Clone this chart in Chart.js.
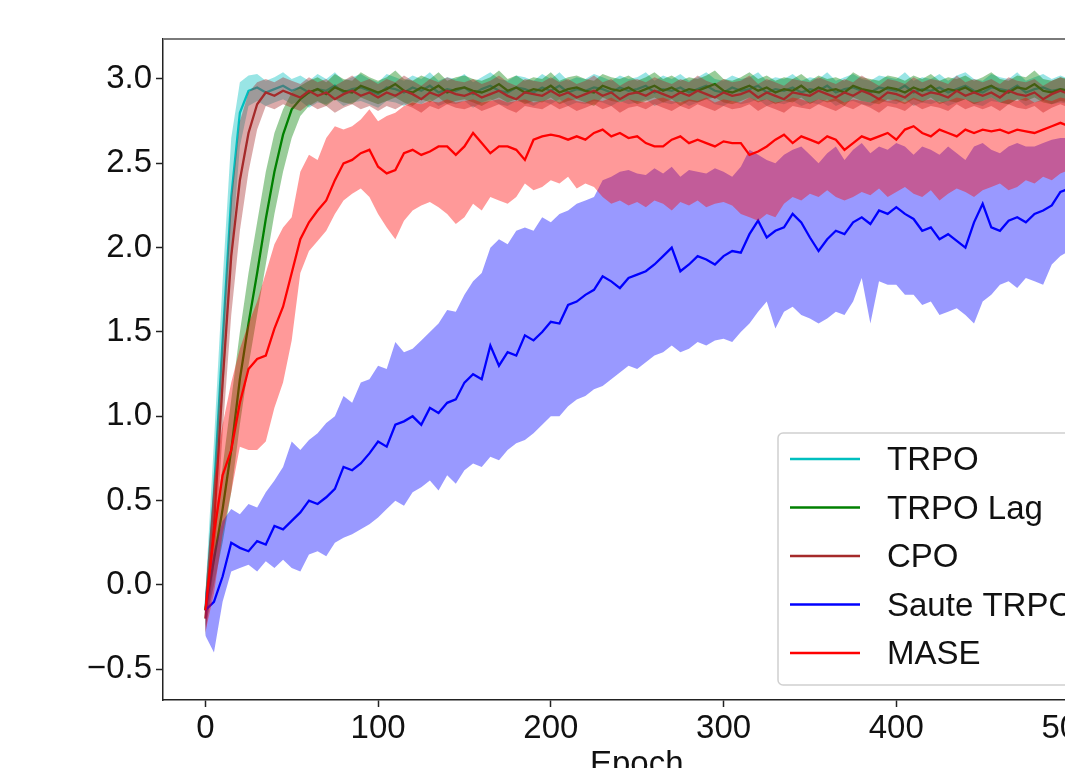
<!DOCTYPE html>
<html><head><meta charset="utf-8">
<script src="https://cdn.jsdelivr.net/npm/chart.js@4.4.0/dist/chart.umd.min.js"></script>
<style>
html,body{margin:0;padding:0;overflow:hidden;background:#fff;width:1065px;height:768px}
#wrap{position:absolute;left:0;top:0;width:1130px;height:800px}
</style>
</head><body><div id="wrap"><canvas id="c" width="1130" height="800"></canvas></div>
<script>
const epochs = [
0,5,10,15,20,25,30,35,40,45,
50,55,60,65,70,75,80,85,90,95,
100,105,110,115,120,125,130,135,140,145,
150,155,160,165,170,175,180,185,190,195,
200,205,210,215,220,225,230,235,240,245,
250,255,260,265,270,275,280,285,290,295,
300,305,310,315,320,325,330,335,340,345,
350,355,360,365,370,375,380,385,390,395,
400,405,410,415,420,425,430,435,440,445,
450,455,460,465,470,475,480,485,490,495,
500];

const trpoMean = [
-0.15,0.55,1.45,2.30,2.80,2.93,2.95,2.92,2.94,2.96,
2.93,2.95,2.92,2.94,2.93,2.96,2.92,2.94,2.95,2.93,
2.91,2.95,2.94,2.92,2.95,2.93,2.96,2.92,2.94,2.93,
2.95,2.91,2.94,2.96,2.93,2.92,2.95,2.94,2.92,2.95,
2.93,2.96,2.92,2.94,2.93,2.95,2.94,2.92,2.95,2.93,
2.94,2.96,2.92,2.94,2.93,2.95,2.92,2.94,2.96,2.93,
2.92,2.95,2.93,2.94,2.96,2.92,2.94,2.93,2.95,2.92,
2.94,2.93,2.96,2.92,2.94,2.95,2.93,2.92,2.95,2.94,
2.93,2.96,2.92,2.94,2.93,2.95,2.92,2.94,2.96,2.93,
2.92,2.95,2.94,2.93,2.96,2.92,2.94,2.95,2.93,2.94,
2.93];
const trpoHi = [
-0.05,0.85,1.80,2.65,2.98,3.02,3.03,2.99,3.01,3.04,
3.00,3.02,2.99,3.03,3.00,3.04,2.99,3.01,3.03,3.00,
2.98,3.03,3.01,2.99,3.02,3.00,3.04,2.99,3.01,3.00,
3.03,2.98,3.01,3.04,3.00,2.99,3.02,3.01,2.99,3.03,
3.00,3.04,2.99,3.01,3.00,3.03,3.01,2.99,3.02,3.00,
3.01,3.04,2.99,3.02,3.00,3.03,2.99,3.01,3.04,3.00,
2.99,3.02,3.00,3.01,3.04,2.99,3.01,3.00,3.03,2.99,
3.01,3.00,3.04,2.99,3.01,3.03,3.00,2.99,3.02,3.01,
3.00,3.04,2.99,3.01,3.00,3.03,2.99,3.02,3.04,3.00,
2.99,3.03,3.01,3.00,3.04,2.99,3.01,3.03,3.00,3.02,
3.00];
const trpoLo = [
-0.30,0.30,1.10,1.95,2.60,2.84,2.87,2.84,2.86,2.88,
2.85,2.87,2.83,2.86,2.85,2.88,2.84,2.86,2.87,2.85,
2.83,2.87,2.86,2.84,2.87,2.85,2.88,2.84,2.86,2.85,
2.87,2.83,2.86,2.88,2.85,2.84,2.87,2.86,2.84,2.87,
2.85,2.88,2.84,2.86,2.85,2.87,2.86,2.84,2.87,2.85,
2.86,2.88,2.84,2.86,2.85,2.87,2.84,2.86,2.88,2.85,
2.84,2.87,2.85,2.86,2.88,2.84,2.86,2.85,2.87,2.84,
2.86,2.85,2.88,2.84,2.86,2.87,2.85,2.84,2.87,2.86,
2.85,2.88,2.84,2.86,2.85,2.87,2.84,2.86,2.88,2.85,
2.84,2.87,2.86,2.85,2.88,2.84,2.86,2.87,2.85,2.86,
2.85];

const lagMean = [
-0.15,0.15,0.45,0.80,1.22,1.55,1.85,2.17,2.45,2.67,
2.82,2.88,2.92,2.94,2.91,2.95,2.93,2.92,2.96,2.94,
2.92,2.94,2.97,2.93,2.92,2.95,2.93,2.96,2.92,2.94,
2.95,2.93,2.92,2.94,2.97,2.93,2.95,2.92,2.94,2.93,
2.96,2.92,2.94,2.95,2.93,2.92,2.96,2.94,2.93,2.95,
2.92,2.94,2.96,2.93,2.95,2.92,2.94,2.93,2.95,2.97,
2.93,2.92,2.94,2.96,2.93,2.95,2.92,2.94,2.93,2.96,
2.92,2.95,2.93,2.94,2.92,2.96,2.94,2.93,2.92,2.95,
2.94,2.92,2.95,2.93,2.96,2.92,2.94,2.93,2.95,2.92,
2.94,2.96,2.93,2.92,2.95,2.94,2.97,2.93,2.92,2.94,
2.93];
const lagHi = [
-0.05,0.35,0.70,1.10,1.50,1.85,2.15,2.45,2.68,2.82,
2.92,2.96,2.99,3.01,2.98,3.03,3.00,2.99,3.04,3.01,
2.99,3.01,3.05,3.00,2.99,3.02,3.00,3.04,2.99,3.01,
3.02,3.00,2.99,3.01,3.05,3.00,3.02,2.99,3.01,3.00,
3.04,2.99,3.01,3.02,3.00,2.99,3.03,3.01,3.00,3.02,
2.99,3.01,3.04,3.00,3.02,2.99,3.01,3.00,3.02,3.05,
3.00,2.99,3.01,3.04,3.00,3.02,2.99,3.01,3.00,3.03,
2.99,3.02,3.00,3.01,2.99,3.04,3.01,3.00,2.99,3.02,
3.01,2.99,3.02,3.00,3.03,2.99,3.01,3.00,3.02,2.99,
3.01,3.04,3.00,2.99,3.02,3.01,3.05,3.00,2.99,3.01,
3.00];
const lagLo = [
-0.25,0.00,0.25,0.55,0.95,1.30,1.60,1.90,2.20,2.45,
2.65,2.78,2.84,2.87,2.84,2.88,2.86,2.85,2.89,2.87,
2.85,2.87,2.89,2.86,2.84,2.88,2.86,2.89,2.85,2.87,
2.88,2.86,2.84,2.87,2.89,2.86,2.88,2.85,2.87,2.86,
2.89,2.85,2.87,2.88,2.86,2.84,2.89,2.87,2.86,2.88,
2.85,2.87,2.89,2.86,2.88,2.84,2.87,2.86,2.88,2.89,
2.86,2.85,2.87,2.89,2.86,2.88,2.85,2.87,2.86,2.89,
2.85,2.88,2.86,2.87,2.84,2.89,2.87,2.86,2.85,2.88,
2.87,2.85,2.88,2.86,2.89,2.85,2.87,2.86,2.88,2.85,
2.87,2.89,2.86,2.85,2.88,2.87,2.89,2.86,2.85,2.87,
2.86];

const cpoMean = [
-0.20,0.35,1.20,1.95,2.40,2.68,2.85,2.92,2.90,2.93,
2.91,2.89,2.93,2.90,2.92,2.88,2.91,2.93,2.90,2.92,
2.89,2.92,2.90,2.93,2.91,2.88,2.92,2.90,2.93,2.91,
2.90,2.92,2.89,2.91,2.93,2.90,2.88,2.92,2.91,2.90,
2.93,2.90,2.92,2.89,2.91,2.93,2.90,2.92,2.88,2.91,
2.92,2.90,2.93,2.91,2.89,2.92,2.90,2.93,2.91,2.89,
2.92,2.90,2.91,2.93,2.89,2.92,2.90,2.88,2.92,2.91,
2.90,2.93,2.91,2.89,2.92,2.90,2.93,2.91,2.88,2.92,
2.91,2.89,2.93,2.90,2.92,2.91,2.89,2.93,2.90,2.92,
2.90,2.92,2.89,2.93,2.91,2.90,2.92,2.88,2.91,2.93,
2.91];
const cpoHi = [
-0.10,0.60,1.50,2.30,2.75,2.92,2.98,3.00,2.98,3.01,
2.99,2.97,3.01,2.98,3.00,2.96,2.99,3.02,2.98,3.00,
2.97,3.00,2.98,3.02,2.99,2.96,3.00,2.98,3.01,2.99,
2.98,3.00,2.97,2.99,3.02,2.98,2.96,3.00,2.99,2.98,
3.01,2.98,3.00,2.97,2.99,3.02,2.98,3.00,2.96,2.99,
3.00,2.98,3.01,2.99,2.97,3.00,2.98,3.02,2.99,2.97,
3.00,2.98,2.99,3.02,2.97,3.00,2.98,2.96,3.00,2.99,
2.98,3.01,2.99,2.97,3.00,2.98,3.02,2.99,2.96,3.00,
2.99,2.97,3.01,2.98,3.00,2.99,2.97,3.02,2.98,3.00,
2.98,3.00,2.97,3.01,2.99,2.98,3.00,2.96,2.99,3.01,
2.99];
const cpoLo = [
-0.30,0.10,0.90,1.60,2.10,2.45,2.70,2.84,2.82,2.85,
2.83,2.81,2.85,2.82,2.84,2.80,2.83,2.85,2.82,2.84,
2.81,2.84,2.82,2.85,2.83,2.80,2.84,2.82,2.85,2.83,
2.82,2.84,2.81,2.83,2.85,2.82,2.80,2.84,2.83,2.82,
2.85,2.82,2.84,2.81,2.83,2.85,2.82,2.84,2.80,2.83,
2.84,2.82,2.85,2.83,2.81,2.84,2.82,2.85,2.83,2.81,
2.84,2.82,2.83,2.85,2.81,2.84,2.82,2.80,2.84,2.83,
2.82,2.85,2.83,2.81,2.84,2.82,2.85,2.83,2.80,2.84,
2.83,2.81,2.85,2.82,2.84,2.83,2.81,2.85,2.82,2.84,
2.82,2.84,2.81,2.85,2.83,2.82,2.84,2.80,2.83,2.85,
2.83];

const sauteMean = [
-0.15,-0.10,0.05,0.25,0.22,0.20,0.26,0.24,0.35,0.33,
0.38,0.43,0.50,0.48,0.52,0.57,0.70,0.68,0.72,0.78,
0.85,0.82,0.95,0.97,1.00,0.95,1.05,1.02,1.08,1.10,
1.20,1.25,1.22,1.42,1.30,1.38,1.36,1.48,1.45,1.50,
1.56,1.55,1.66,1.68,1.72,1.75,1.83,1.80,1.76,1.82,
1.84,1.86,1.90,1.95,2.00,1.86,1.90,1.95,1.93,1.90,
1.95,1.98,1.97,2.08,2.16,2.06,2.10,2.12,2.20,2.15,
2.06,1.98,2.05,2.10,2.08,2.15,2.18,2.14,2.22,2.20,
2.24,2.20,2.17,2.10,2.12,2.05,2.08,2.04,2.00,2.15,
2.26,2.12,2.10,2.16,2.18,2.15,2.20,2.22,2.25,2.33,
2.35];
const sauteHi = [
-0.05,0.20,0.38,0.45,0.42,0.48,0.46,0.55,0.62,0.70,
0.85,0.80,0.86,0.90,0.96,1.00,1.12,1.08,1.20,1.22,
1.30,1.28,1.44,1.38,1.40,1.45,1.50,1.55,1.63,1.62,
1.72,1.80,1.85,2.00,2.05,2.02,2.10,2.12,2.10,2.18,
2.15,2.20,2.22,2.26,2.28,2.30,2.40,2.42,2.45,2.46,
2.44,2.43,2.47,2.44,2.48,2.42,2.46,2.45,2.44,2.47,
2.45,2.42,2.48,2.58,2.55,2.52,2.50,2.55,2.58,2.60,
2.55,2.50,2.56,2.60,2.52,2.58,2.62,2.56,2.60,2.58,
2.62,2.60,2.55,2.60,2.58,2.55,2.60,2.56,2.52,2.60,
2.62,2.58,2.56,2.60,2.62,2.60,2.60,2.62,2.64,2.65,
2.65];
const sauteLo = [
-0.30,-0.40,-0.10,0.08,0.10,0.12,0.08,0.14,0.10,0.15,
0.10,0.08,0.18,0.20,0.17,0.25,0.28,0.30,0.33,0.36,
0.40,0.45,0.50,0.47,0.55,0.58,0.62,0.56,0.65,0.60,
0.68,0.72,0.70,0.76,0.74,0.80,0.84,0.86,0.90,0.95,
1.00,1.00,1.06,1.10,1.12,1.16,1.18,1.22,1.26,1.30,
1.28,1.32,1.36,1.38,1.42,1.38,1.40,1.44,1.42,1.45,
1.46,1.44,1.50,1.55,1.62,1.68,1.52,1.62,1.65,1.60,
1.58,1.55,1.58,1.62,1.60,1.68,1.82,1.55,1.80,1.78,
1.78,1.72,1.72,1.66,1.68,1.60,1.62,1.64,1.60,1.55,
1.68,1.72,1.78,1.80,1.76,1.82,1.80,1.78,1.90,1.95,
1.98];

const maseMean = [
-0.15,0.30,0.65,0.80,1.08,1.28,1.34,1.36,1.52,1.65,
1.85,2.05,2.15,2.22,2.28,2.40,2.50,2.52,2.56,2.58,
2.48,2.44,2.46,2.56,2.58,2.55,2.57,2.60,2.60,2.55,
2.60,2.68,2.62,2.56,2.60,2.60,2.58,2.52,2.64,2.66,
2.67,2.66,2.64,2.66,2.64,2.68,2.70,2.66,2.68,2.65,
2.66,2.62,2.60,2.60,2.64,2.66,2.62,2.64,2.62,2.60,
2.63,2.62,2.62,2.55,2.57,2.60,2.64,2.67,2.62,2.66,
2.64,2.62,2.66,2.64,2.58,2.62,2.66,2.64,2.66,2.68,
2.64,2.70,2.72,2.68,2.66,2.70,2.68,2.66,2.70,2.68,
2.70,2.69,2.70,2.68,2.70,2.69,2.68,2.70,2.72,2.74,
2.72];
const maseHi = [
-0.05,0.62,0.95,1.20,1.40,1.55,1.68,1.85,2.02,2.12,
2.18,2.45,2.55,2.52,2.65,2.72,2.70,2.72,2.76,2.82,
2.75,2.78,2.80,2.84,2.86,2.85,2.87,2.86,2.88,2.86,
2.87,2.88,2.86,2.87,2.88,2.86,2.87,2.88,2.86,2.87,
2.88,2.86,2.89,2.87,2.86,2.88,2.87,2.89,2.86,2.88,
2.87,2.86,2.88,2.89,2.87,2.86,2.88,2.87,2.89,2.86,
2.88,2.87,2.86,2.89,2.87,2.88,2.86,2.87,2.89,2.88,
2.86,2.88,2.87,2.89,2.86,2.88,2.87,2.86,2.89,2.87,
2.88,2.86,2.89,2.87,2.88,2.86,2.87,2.89,2.88,2.86,
2.87,2.89,2.86,2.88,2.87,2.89,2.86,2.88,2.87,2.89,
2.88];
const maseLo = [
-0.28,-0.05,0.30,0.55,0.82,0.80,0.80,0.85,1.05,1.20,
1.45,1.85,1.98,2.04,2.10,2.20,2.28,2.32,2.35,2.30,
2.20,2.12,2.05,2.16,2.22,2.25,2.27,2.24,2.20,2.14,
2.18,2.26,2.22,2.30,2.28,2.26,2.30,2.38,2.34,2.36,
2.40,2.38,2.42,2.35,2.38,2.36,2.30,2.26,2.28,2.25,
2.27,2.24,2.28,2.26,2.22,2.27,2.25,2.28,2.24,2.26,
2.27,2.25,2.20,2.18,2.16,2.20,2.18,2.26,2.30,2.28,
2.32,2.30,2.34,2.30,2.28,2.30,2.33,2.31,2.35,2.30,
2.33,2.36,2.32,2.30,2.34,2.28,2.32,2.35,2.33,2.30,
2.34,2.36,2.38,2.34,2.36,2.40,2.38,2.42,2.40,2.44,
2.46];

const seriesNames = ['TRPO','TRPO Lag','CPO','Saute TRPO','MASE'];
const xTicks = [0,100,200,300,400,500];
const yTicks = [-0.5,0,0.5,1.0,1.5,2.0,2.5,3.0];
const xTitle = 'Epoch';

const seriesData = [
  {mean: trpoMean, hi: trpoHi, lo: trpoLo, line: '#00bfbf', fill: 'rgba(0,191,191,0.4)'},
  {mean: lagMean, hi: lagHi, lo: lagLo, line: '#008000', fill: 'rgba(0,128,0,0.4)'},
  {mean: cpoMean, hi: cpoHi, lo: cpoLo, line: '#a52a2a', fill: 'rgba(165,42,42,0.4)'},
  {mean: sauteMean, hi: sauteHi, lo: sauteLo, line: '#0000ff', fill: 'rgba(0,0,255,0.4)'},
  {mean: maseMean, hi: maseHi, lo: maseLo, line: '#ff0000', fill: 'rgba(255,0,0,0.4)'}
];

const pts = arr => epochs.map((e, i) => ({x: e, y: arr[i]}));
const datasets = [];
seriesData.forEach((s, k) => {
  const base = datasets.length;
  datasets.push({label: '_lo', data: pts(s.lo), borderWidth: 0, pointRadius: 0, fill: false, order: 1000 - base, isBand: true});
  datasets.push({label: '_hi', data: pts(s.hi), borderWidth: 0, pointRadius: 0, fill: '-1', backgroundColor: s.fill, order: 1000 - base - 1, isBand: true});
  datasets.push({label: seriesNames[k], data: pts(s.mean), borderColor: s.line, borderWidth: 2.3, pointRadius: 0, fill: false, tension: 0, order: 1000 - base - 2});
});

const FONT = '"Liberation Sans", Arial, Helvetica, sans-serif';

const framePlugin = {
  id: 'frame',
  afterDraw(chart) {
    const {ctx, chartArea: ca} = chart;
    ctx.save();
    ctx.strokeStyle = '#7a7a7a';
    ctx.lineWidth = 2;
    ctx.beginPath();
    ctx.moveTo(ca.left, ca.top);
    ctx.lineTo(ca.right, ca.top);
    ctx.stroke();
    ctx.restore();
  }
};

const legendPlugin = {
  id: 'mplLegend',
  afterDraw(chart) {
    const {ctx, chartArea: ca} = chart;
    const right = ca.right - 16.5, bottom = ca.bottom - 15;
    const w = 316, h = 252;
    const left = right - w, top = bottom - h;
    ctx.save();
    ctx.beginPath();
    ctx.roundRect(left, top, w, h, 5);
    ctx.fillStyle = 'rgba(255,255,255,0.8)';
    ctx.fill();
    ctx.strokeStyle = '#d0d0d0';
    ctx.lineWidth = 1.5;
    ctx.stroke();
    const lines = chart.data.datasets.filter(d => !d.isBand);
    ctx.font = '33px ' + FONT;
    ctx.textBaseline = 'middle';
    ctx.textAlign = 'left';
    lines.forEach((d, i) => {
      const y = top + 26 + i * 48.5;
      ctx.strokeStyle = d.borderColor;
      ctx.lineWidth = 2.6;
      ctx.beginPath();
      ctx.moveTo(left + 12, y);
      ctx.lineTo(left + 82, y);
      ctx.stroke();
      ctx.fillStyle = '#111';
      ctx.fillText(d.label, left + 109, y + 2);
    });
    ctx.restore();
  }
};

new Chart(document.getElementById('c'), {
  type: 'line',
  data: {datasets},
  options: {
    responsive: false,
    animation: false,
    devicePixelRatio: 1,
    layout: {padding: {top: 39, right: 19.5, left: 0, bottom: 0}},
    plugins: {legend: {display: false}, tooltip: {enabled: false}, filler: {propagate: false}},
    elements: {line: {tension: 0}},
    scales: {
      x: {
        type: 'linear', min: -24.5, max: 524,
        afterBuildTicks: s => { s.ticks = xTicks.map(v => ({value: v})); },
        afterFit: s => { s.height = 100; },
        ticks: {font: {family: FONT, size: 33, lineHeight: 1.2}, color: '#111', padding: 2, maxRotation: 0, autoSkip: false, callback: v => String(v)},
        grid: {drawOnChartArea: false, drawTicks: true, tickLength: 7, tickColor: '#222', tickWidth: 1.5},
        border: {display: true, color: '#222', width: 1.5},
        title: {display: true, text: xTitle, color: '#111', font: {family: FONT, size: 33, lineHeight: 1.2}, padding: {top: 0, bottom: 15}}
      },
      y: {
        type: 'linear', min: -0.682, max: 3.237,
        afterBuildTicks: s => { s.ticks = yTicks.map(v => ({value: v})); },
        afterFit: s => { s.width = 163; },
        ticks: {font: {family: FONT, size: 33}, color: '#111', padding: 4, autoSkip: false,
          callback: v => (v < 0 ? '\u2212' : '') + Math.abs(v).toFixed(1)},
        grid: {drawOnChartArea: false, drawTicks: true, tickLength: 7, tickColor: '#222', tickWidth: 1.5},
        border: {display: true, color: '#222', width: 1.5}
      }
    }
  },
  plugins: [framePlugin, legendPlugin]
});
</script>
</body></html>
